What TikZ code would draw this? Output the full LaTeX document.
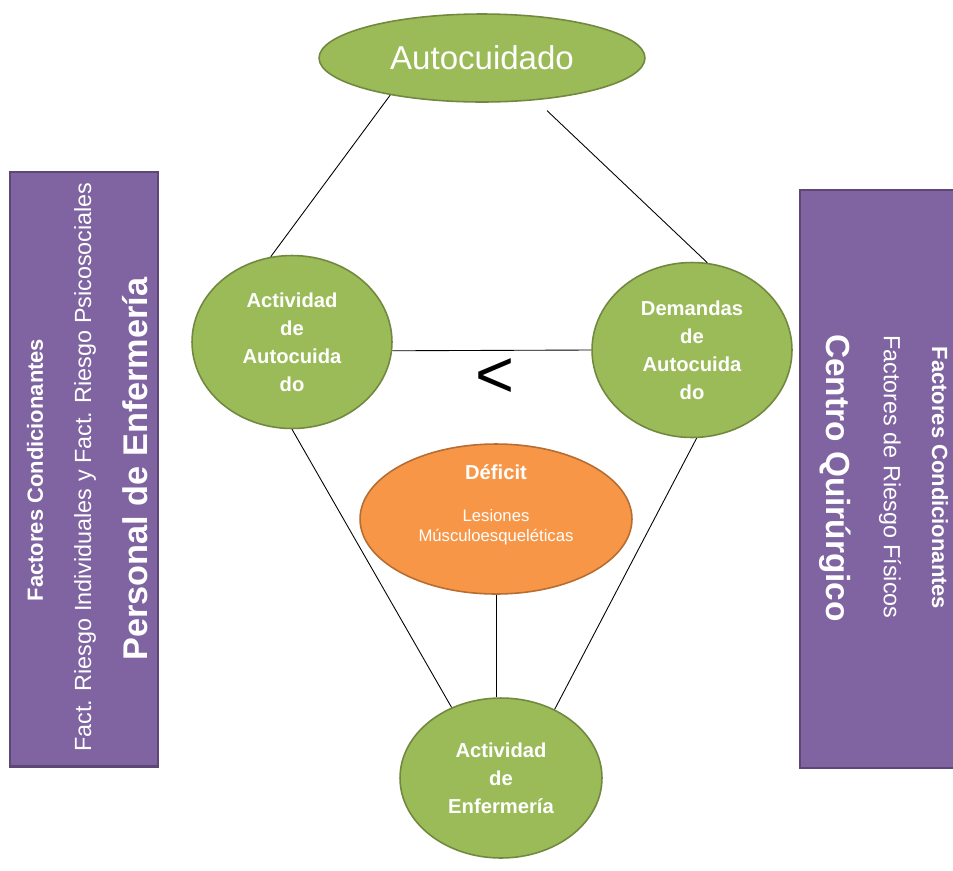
\documentclass[tikz,border=0pt]{standalone}
\usepackage{fontspec}
\setmainfont{Liberation Sans}
\usetikzlibrary{shapes.geometric,positioning,calc}
\definecolor{olivefill}{RGB}{155,187,89}
\definecolor{olivedraw}{RGB}{113,137,63}
\definecolor{orangefill}{RGB}{247,150,70}
\definecolor{orangedraw}{RGB}{182,109,49}
\definecolor{purplefill}{RGB}{128,100,162}
\definecolor{purpledraw}{RGB}{92,71,118}

\tikzset{
  greenell/.style={ellipse,draw=olivedraw,fill=olivefill,line width=0.9pt,inner sep=0pt,text=white,align=center},
  orangeell/.style={ellipse,draw=orangedraw,fill=orangefill,line width=0.9pt,inner sep=0pt,text=white,align=center},
  circtext/.style={font=\fontsize{11.5}{16}\bfseries\selectfont},
  factorbox/.style={rectangle,draw=purpledraw,fill=purplefill,line width=1.2pt,inner sep=0pt},
  boxtext/.style={text=white,inner sep=0pt},
  link/.style={draw=black,line width=0.5pt}
}

\begin{document}
\begin{tikzpicture}[x=0.02cm,y=-0.02cm]
  \useasboundingbox (0,0) rectangle (953,870);
  \clip (0,0) rectangle (953,870);

  % Side boxes
  \node[factorbox,minimum width=2.96cm,minimum height=11.9cm] (leftbox) at (84,469) {};
  \node[factorbox,minimum width=3.2cm,minimum height=11.56cm] (rightbox) at (880,479) {};

  \node[boxtext,rotate=90,font=\fontsize{12.5}{14}\bfseries\selectfont] (lcond) at (35,470) {Factores Condicionantes};
  \node[boxtext,rotate=90,font=\fontsize{13.3}{15}\selectfont] (lrisk) at (85,467) {Fact. Riesgo Individuales y Fact. Riesgo Psicosociales};
  \node[boxtext,rotate=90,font=\fontsize{19.5}{22}\bfseries\selectfont] (lpers) at (135,469) {Personal de Enfermería};

  \node[boxtext,rotate=-90,font=\fontsize{12.5}{14}\bfseries\selectfont] (rcond) at (940,478) {Factores Condicionantes};
  \node[boxtext,rotate=-90,font=\fontsize{13.3}{15}\selectfont] (rrisk) at (890,477) {Factores de Riesgo Físicos};
  \node[boxtext,rotate=-90,font=\fontsize{19}{22}\bfseries\selectfont] (rcent) at (835,478) {Centro Quirúrgico};

  % Main nodes
  \node[greenell,minimum width=6.52cm,minimum height=1.76cm,font=\fontsize{18.8}{22}\selectfont] (auto) at (482,58) {Autocuidado};
  \node[greenell,circtext,minimum width=4cm,minimum height=3.46cm] (actaut) at (292,342) {Actividad\\de\\Autocuida\\do};
  \node[greenell,circtext,minimum width=4cm,minimum height=3.5cm] (demaut) at (692,350) {Demandas\\de\\Autocuida\\do};
  \node[orangeell,minimum width=5.44cm,minimum height=3cm] (deficit) at (496,519) {};
  \node[greenell,circtext,minimum width=4.04cm,minimum height=3.2cm] (actenf) at (501,778) {Actividad\\de\\Enfermería};

  \node[boxtext,font=\fontsize{11.5}{14}\bfseries\selectfont] (deftitle) at (496,472) {Déficit};
  \node[boxtext,align=center,font=\fontsize{9.5}{11.5}\selectfont] (defsub) at (496,527) {Lesiones\\Músculoesqueléticas};
  \node[inner sep=0pt,font=\fontsize{38}{40}\selectfont] (less) at (495,378) {<};

  % Connectors
  \draw[link] (auto.202) -- (actaut.104);
  \draw[link,shorten <=0.3cm] (auto.322) -- (demaut.80);
  \draw[link] (actaut.355) -- (demaut.west);
  \draw[link] (actaut.270) -- (actenf.125);
  \draw[link] (demaut.273) -- (actenf.52);
  \draw[link] (deficit.south) -- (deficit.south |- actenf.north);
\end{tikzpicture}
\end{document}
